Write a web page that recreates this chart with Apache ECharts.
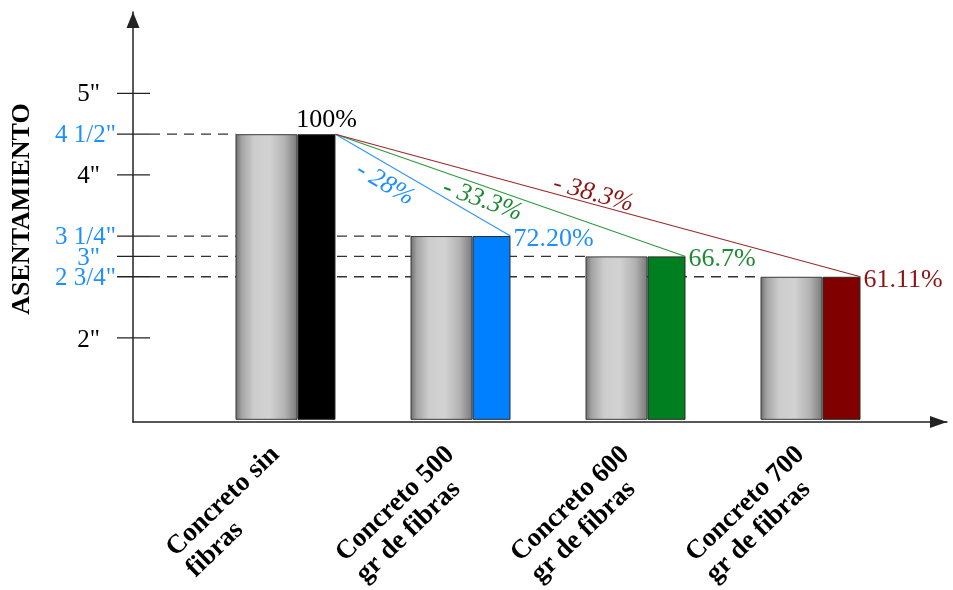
<!DOCTYPE html>
<html>
<head>
<meta charset="utf-8">
<script src="https://cdn.jsdelivr.net/npm/echarts@6/dist/echarts.min.js"></script>
<style>
  html, body { margin: 0; padding: 0; background: #ffffff; }
  #chart { width: 953px; height: 590px; }
</style>
</head>
<body>
<div id="chart"></div>
<script>
// Slump (asentamiento) of concrete mixes with increasing fibre dosage
const categories = ['Concreto sin\nfibras', 'Concreto 500\ngr de fibras', 'Concreto 600\ngr de fibras', 'Concreto 700\ngr de fibras'];
const slumpInches = [4.5, 3.25, 3, 2.75];
const percentLabels = ['100%', '72.20%', '66.7%', '61.11%'];
const dropLabels = ['', '- 28%', '- 33.3%', '- 38.3%'];
const tickValues = [2, 2.75, 3, 3.25, 4, 4.5, 5];
const tickLabels = ['2"', '2 3/4"', '3"', '3 1/4"', '4"', '4 1/2"', '5"'];

// ---- styling and layout ----
const FONT = '"Liberation Serif", "Times New Roman", serif';
const barColors = ['#000000', '#0080ff', '#007f20', '#800000'];
const textColors = ['#000000', '#1e8fff', '#1f8a35', '#8b1414'];
const lineColors = [null, '#2f95ff', '#2c9a3e', '#992a2a'];
const HIGHLIGHT = '#1e8fff';
const AXIS_COLOR = '#222222';
const Y_MIN = 1, Y_MAX = 6;
const TICK_LEFT = 117, TICK_RIGHT = 150;
const GREY_W = 62, COLOR_W = 38;
const HALF_PAIR = (GREY_W + COLOR_W) / 2;
const dropAlong = [0, 0.335, 0.433, 0.486];   // position of drop label along its line
const dropShift = [0, 18, 14, -10];           // perpendicular offset (px, + = below)

const greyGradient = {
  type: 'linear', x: 0, y: 0, x2: 1, y2: 0,
  colorStops: [
    { offset: 0, color: '#6c6c6c' },
    { offset: 0.1, color: '#a4a4a4' },
    { offset: 0.3, color: '#cdcdcd' },
    { offset: 0.55, color: '#d2d2d2' },
    { offset: 0.8, color: '#b2b2b2' },
    { offset: 1, color: '#787878' }
  ]
};

function tickIndex(v) {
  return tickValues.findIndex(t => Math.abs(t - v) < 1e-9);
}

const chart = echarts.init(document.getElementById('chart'), null, { renderer: 'canvas' });

chart.setOption({
  animation: false,
  backgroundColor: '#ffffff',
  textStyle: { fontFamily: FONT },
  grid: [
    { left: 133, right: 6, top: 12, bottom: 168 },   // axes frame
    { left: 198, width: 700, top: 12, bottom: 168 }  // bar groups
  ],
  xAxis: [
    {
      gridIndex: 0, type: 'value', min: 0, max: 1,
      axisLine: {
        show: true, onZero: false,
        symbol: ['none', 'triangle'], symbolSize: [12, 17], symbolOffset: [0, -8.5],
        lineStyle: { color: AXIS_COLOR, width: 1.5 }
      },
      axisTick: { show: false }, axisLabel: { show: false }, splitLine: { show: false }
    },
    {
      gridIndex: 1, type: 'category', data: categories,
      axisLine: { show: false }, axisTick: { show: false }, splitLine: { show: false },
      axisLabel: {
        interval: 0, rotate: 44, margin: 42,
        formatter: (val) => val.split('\n').map(s => '{c|' + s + '}').join('\n'),
        rich: {
          c: { fontFamily: FONT, fontSize: 27, fontWeight: 'bold', lineHeight: 29, color: '#000', align: 'left' }
        }
      }
    }
  ],
  yAxis: [
    {
      gridIndex: 0, type: 'value', min: Y_MIN, max: Y_MAX,
      axisLine: {
        show: true, onZero: false,
        symbol: ['none', 'triangle'], symbolSize: [13, 16], symbolOffset: [0, -8],
        lineStyle: { color: AXIS_COLOR, width: 1.5 }
      },
      axisTick: { show: false }, splitLine: { show: false },
      axisLabel: {
        customValues: tickValues,
        margin: 17,
        formatter: (v) => {
          const i = tickIndex(v);
          if (i < 0) return '';
          const text = tickLabels[i];
          const isBar = slumpInches.some(s => Math.abs(s - v) < 1e-9);
          const key = isBar ? (text.includes('/') ? 'bf' : 'b') : 'k';
          return '{' + key + '|' + text + '}';
        },
        rich: {
          k: { fontFamily: FONT, fontSize: 25, color: '#000', padding: [0, 16, 0, 0] },
          b: { fontFamily: FONT, fontSize: 25, color: HIGHLIGHT, padding: [0, 16, 0, 0] },
          bf: { fontFamily: FONT, fontSize: 25, color: HIGHLIGHT }
        }
      }
    },
    { gridIndex: 1, type: 'value', min: Y_MIN, max: Y_MAX, show: false }
  ],
  graphic: [
    {
      type: 'text', x: 22, y: 209, rotation: Math.PI / 2,
      style: {
        text: 'ASENTAMIENTO', x: 0, y: 0, align: 'center', verticalAlign: 'middle',
        fill: '#000', font: 'bold 26px ' + FONT
      }
    }
  ],
  series: [
    {
      // dashed guides from the axis to the bar of the same height
      name: 'guias', type: 'custom', xAxisIndex: 1, yAxisIndex: 1, z: 1, silent: true,
      data: slumpInches.map((v, i) => [i, v]),
      renderItem: (params, api) => {
        const p = api.coord([api.value(0), api.value(1)]);
        return {
          type: 'line',
          shape: { x1: TICK_RIGHT, y1: p[1], x2: p[0] - HALF_PAIR, y2: p[1] },
          style: { stroke: '#333', lineWidth: 1.3, lineDash: [10, 7] }
        };
      }
    },
    {
      // tick marks crossing the vertical axis
      name: 'marcas', type: 'custom', xAxisIndex: 1, yAxisIndex: 1, z: 1, silent: true,
      data: tickValues.map(v => [0, v]),
      renderItem: (params, api) => {
        const p = api.coord([0, api.value(1)]);
        return {
          type: 'line',
          shape: { x1: TICK_LEFT, y1: p[1], x2: TICK_RIGHT, y2: p[1] },
          style: { stroke: AXIS_COLOR, lineWidth: 1.3 }
        };
      }
    },
    {
      name: 'Asentamiento', type: 'bar', xAxisIndex: 1, yAxisIndex: 1, z: 2,
      barWidth: GREY_W, barGap: '0%',
      data: slumpInches,
      itemStyle: { color: greyGradient, borderColor: '#3a3a3a', borderWidth: 1 }
    },
    {
      name: 'Porcentaje', type: 'bar', xAxisIndex: 1, yAxisIndex: 1, z: 2,
      barWidth: COLOR_W, barGap: '0%',
      data: slumpInches.map((v, i) => ({ value: v, itemStyle: { color: barColors[i] } })),
      itemStyle: { borderColor: '#2a2a2a', borderWidth: 1 }
    },
    {
      // reduction lines from the reference mix and percentage labels
      name: 'reduccion', type: 'custom', xAxisIndex: 1, yAxisIndex: 1, z: 3, silent: true,
      data: slumpInches.map((v, i) => [i, v]),
      renderItem: (params, api) => {
        const i = api.value(0);
        const start = api.coord([0, slumpInches[0]]);
        start[0] += HALF_PAIR;
        const end = api.coord([i, api.value(1)]);
        end[0] += HALF_PAIR;
        const children = [];
        if (i > 0) {
          children.push({
            type: 'line',
            shape: { x1: start[0], y1: start[1], x2: end[0], y2: end[1] },
            style: { stroke: lineColors[i], lineWidth: 1.1 }
          });
          const dx = end[0] - start[0], dy = end[1] - start[1];
          const len = Math.hypot(dx, dy), ux = dx / len, uy = dy / len;
          children.push({
            type: 'text',
            x: start[0] + dx * dropAlong[i] - uy * dropShift[i],
            y: start[1] + dy * dropAlong[i] + ux * dropShift[i],
            rotation: -Math.atan2(dy, dx),
            style: {
              text: dropLabels[i], x: 0, y: 0, align: 'center', verticalAlign: 'middle',
              fill: textColors[i], font: 'italic 26px ' + FONT
            }
          });
          children.push({
            type: 'text',
            style: {
              text: percentLabels[i], x: end[0] + 3, y: end[1] + 3,
              align: 'left', verticalAlign: 'middle',
              fill: textColors[i], font: '26px ' + FONT
            }
          });
        } else {
          children.push({
            type: 'text',
            style: {
              text: percentLabels[i], x: end[0] - 9, y: end[1] - 1,
              align: 'center', verticalAlign: 'bottom',
              fill: textColors[i], font: '26px ' + FONT
            }
          });
        }
        return { type: 'group', children };
      }
    }
  ]
});
</script>
</body>
</html>
